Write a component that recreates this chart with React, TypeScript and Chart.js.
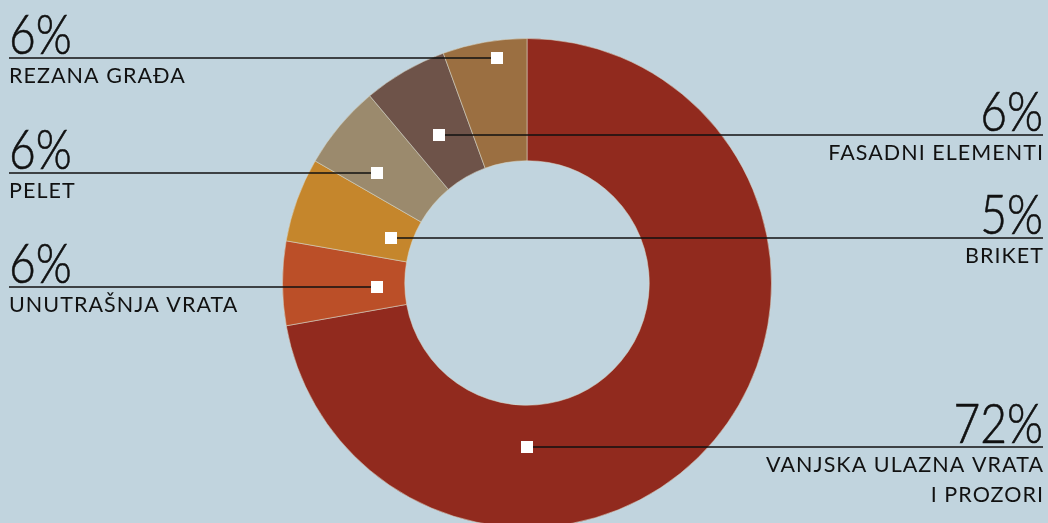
import React, { useEffect, useRef } from "react";
import { Chart, registerables } from "chart.js";

Chart.register(...registerables);

const categories = [
  ["VANJSKA ULAZNA VRATA", "I PROZORI"],
  ["UNUTRAŠNJA VRATA"],
  ["BRIKET"],
  ["PELET"],
  ["FASADNI ELEMENTI"],
  ["REZANA GRAĐA"],
];
const shares = [72.2, 5.56, 5.56, 5.56, 5.56, 5.56];
const percentLabels = ["72%", "6%", "5%", "6%", "6%", "6%"];
const colors = ["#912a1e", "#bb4f28", "#c5862c", "#9b8a6d", "#6e5349", "#9b6f41"];

// annotation layout: which side the label sits on, and where the marker sits (deg clockwise from top, fraction of outer radius)
const labelSide = ["right", "left", "right", "left", "right", "left"];
const markerAngle = [180, 268.5, 288.3, 306.3, 329.3, 352.4];
const markerRadius = [0.672, 0.615, 0.586, 0.762, 0.705, 0.93];

const BG = "#c1d4de";
const W = 1048;
const H = 523;
const CH = 600;

const calloutPlugin = {
  id: "callouts",
  afterDraw(chart: any) {
    const ctx = chart.ctx;
    const meta = chart.getDatasetMeta(0);
    const arc0 = meta.data[0];
    const cx = arc0.x;
    const cy = arc0.y;
    const R = arc0.outerRadius;
    ctx.save();
    categories.forEach((lines, i) => {
      const th = (markerAngle[i] * Math.PI) / 180;
      const mx = cx + R * markerRadius[i] * Math.sin(th);
      const my = Math.round(cy - R * markerRadius[i] * Math.cos(th));
      const right = labelSide[i] === "right";
      const tx = right ? 1043 : 9;
      // leader line
      ctx.strokeStyle = "#111";
      ctx.lineWidth = 1.6;
      ctx.beginPath();
      ctx.moveTo(tx, my);
      ctx.lineTo(mx, my);
      ctx.stroke();
      // marker
      ctx.fillStyle = "#ffffff";
      ctx.fillRect(Math.round(mx - 6), my - 6, 12, 12);
      // text
      ctx.fillStyle = "#111";
      ctx.textAlign = right ? "right" : "left";
      ctx.textBaseline = "alphabetic";
      ctx.save();
      ctx.translate(tx, my - 4);
      ctx.scale(0.84, 1);
      ctx.font = "300 55px Lato";
      ctx.lineWidth = 0.6;
      ctx.strokeStyle = "#111";
      ctx.fillText(percentLabels[i], 0, 0);
      ctx.strokeText(percentLabels[i], 0, 0);
      ctx.restore();
      ctx.font = "400 21.5px Lato";
      (ctx as any).letterSpacing = "1.05px";
      lines.forEach((ln, j) => {
        ctx.fillText(ln, tx + (right ? 1.05 : 0), my + 25 + j * 30);
      });
      (ctx as any).letterSpacing = "0px";
    });
    ctx.restore();
  },
};

export default function App() {
  const ref = useRef<HTMLCanvasElement>(null);
  useEffect(() => {
    document.body.style.margin = "0";
    document.body.style.background = BG;
    const chart = new Chart(ref.current!, {
      type: "doughnut",
      data: {
        labels: categories.map((c) => c.join(" ")),
        datasets: [
          {
            data: shares,
            backgroundColor: colors,
            borderColor: "rgba(215,215,200,0.55)",
            borderWidth: 1,
          },
        ],
      },
      options: {
        animation: false,
        responsive: false,
        cutout: "50%",
        layout: { padding: { top: 38, bottom: CH - 528, left: 6, right: 0 } },
        plugins: {
          legend: { display: false },
          tooltip: { enabled: false },
        },
      },
      plugins: [calloutPlugin],
    });
    return () => chart.destroy();
  }, []);
  return (
    <div style={{ width: W, height: H, overflow: "hidden", background: BG, position: "relative" }}>
      <canvas ref={ref} width={W} height={CH} style={{ display: "block" }} />
    </div>
  );
}
